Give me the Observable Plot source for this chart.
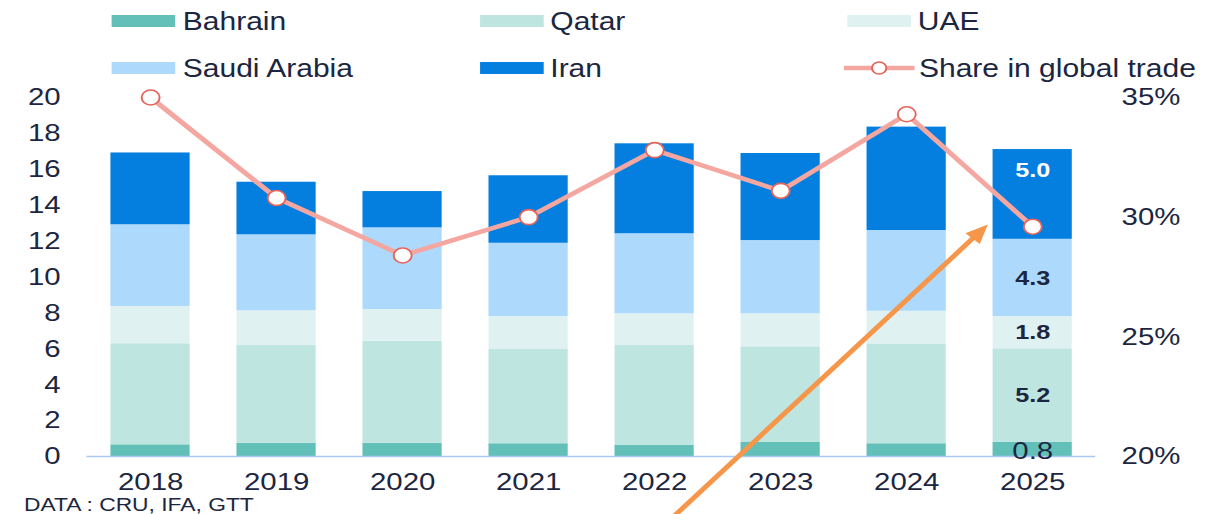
<!DOCTYPE html>
<html><head><meta charset="utf-8">
<script src="https://cdn.jsdelivr.net/npm/d3@7"></script>
<script src="https://cdn.jsdelivr.net/npm/@observablehq/plot@0.6"></script>
<style>
body{margin:0;background:#fff;font-family:"Liberation Sans",Arial,sans-serif;color:#1c2640;overflow:hidden}
#wrap{position:relative;width:1019px;height:514px;transform:scaleX(1.2002);transform-origin:0 0}
.leg{position:absolute;display:flex;align-items:center;font-size:25px;height:30px;line-height:30px;white-space:nowrap}
.sw{width:53px;height:12px;margin-right:6px}
#caption{position:absolute;left:20px;top:498px;font-size:19px;line-height:14px;white-space:nowrap}
</style></head><body>
<div id="wrap">
  <div id="legend"></div>
  <div id="chart" style="position:absolute;top:80px;left:0"></div>
  <div id="caption">DATA : CRU, IFA, GTT</div>
</div>
<script>
// ---- data ----
const years = ["2018","2019","2020","2021","2022","2023","2024","2025"];
const countries = ["Bahrain","Qatar","UAE","Saudi Arabia","Iran"];
const bahrain = [0.65,0.74,0.74,0.71,0.63,0.80,0.71,0.8];
const qatar   = [5.63,5.44,5.68,5.25,5.55,5.31,5.53,5.2];
const uae     = [2.08,1.94,1.77,1.84,1.77,1.84,1.85,1.8];
const saudi   = [4.55,4.23,4.55,4.08,4.46,4.08,4.50,4.3];
const iran    = [4.00,2.93,2.02,3.76,5.01,4.85,5.76,5.0];
const share   = [35.0,30.8,28.4,30.0,32.8,31.1,34.3,29.6]; // % share in global trade
const yTicks = [0,2,4,6,8,10,12,14,16,18,20];
const shareTicks = [20,25,30,35];
const shareLabel = "Share in global trade";
const labelYear = "2025";
const caption = "DATA : CRU, IFA, GTT";

const colors = ["#62c0b8","#bee5e0","#dff1f0","#acd9fc","#047fdf"];
const lineColor = "#f4a7a0", dotStroke = "#e5645a", textColor = "#1c2640";

// ---- derived tables ----
const series = [bahrain, qatar, uae, saudi, iran];
const stacked = [];
years.forEach((yr, i) => {
  let base = 0;
  series.forEach((s, j) => {
    stacked.push({year: yr, country: countries[j], value: s[i], y1: base, y2: base + s[i], mid: base + s[i] / 2});
    base += s[i];
  });
});
const shareMin = 20, shareMax = 35, yMax = 20;
const toLeft = v => (v - shareMin) / (shareMax - shareMin) * yMax;
const fromLeft = v => v / yMax * (shareMax - shareMin) + shareMin;
const lineData = years.map((yr, i) => ({year: yr, share: share[i]}));
const labels = stacked.filter(d => d.year === labelYear);

// ---- legend ----
const legend = document.getElementById("legend");
const items = [
  {t: countries[0], c: colors[0]}, {t: countries[1], c: colors[1]}, {t: countries[2], c: colors[2]},
  {t: countries[3], c: colors[3]}, {t: countries[4], c: colors[4]}, {t: shareLabel, line: true}
];
items.forEach((it, k) => {
  const col = k % 3, row = Math.floor(k / 3);
  const div = document.createElement("div");
  div.className = "leg";
  div.style.left = (93.3 + col * 306.2 - (it.line ? 3 : 0)) + "px";
  div.style.top = (row === 0 ? 6 : 53) + "px";
  if (it.line) {
    div.innerHTML = `<svg width="60" height="16" style="margin-right:3px"><line x1="0" y1="8" x2="59" y2="8" stroke="${lineColor}" stroke-width="4.5"/><circle cx="29.5" cy="8" r="6" fill="#fff" stroke="${dotStroke}" stroke-width="1.6"/></svg>`;
  } else {
    div.innerHTML = `<span class="sw" style="background:${it.c}"></span>`;
  }
  const sp = document.createElement("span");
  sp.textContent = it.t;
  div.appendChild(sp);
  legend.appendChild(div);
});
document.getElementById("caption").textContent = caption;

// ---- chart ----
const plot = Plot.plot({
  width: 1019, height: 434,
  marginLeft: 72, marginRight: 106.5, marginTop: 17, marginBottom: 58,
  style: {fontFamily: "Liberation Sans, Arial, sans-serif", fontSize: "24.5px", color: textColor, background: "transparent"},
  x: {domain: years, paddingInner: 0.373, paddingOuter: 0.1865, label: null},
  y: {domain: [0, yMax], label: null},
  color: {domain: countries, range: colors},
  marks: [
    Plot.barY(stacked, {x: "year", y1: "y1", y2: "y2", fill: "country"}),
    Plot.ruleY([0], {stroke: "#a9c8f4", strokeWidth: 1.5}),
    Plot.axisY(yTicks, {anchor: "left", tickSize: 0, tickPadding: 22, label: null, fontSize: 24.5, fill: textColor}),
    Plot.axisY(shareTicks.map(toLeft), {anchor: "right", tickSize: 0, tickPadding: 21.5, label: null, fontSize: 24.5, fill: textColor,
      tickFormat: v => Math.round(fromLeft(v)) + "%"}),
    Plot.axisX({tickSize: 0, tickPadding: 16, label: null, fontSize: 24.5, fill: textColor}),
    Plot.line(lineData, {x: "year", y: d => toLeft(d.share), stroke: lineColor, strokeWidth: 4.5}),
    Plot.dot(lineData, {x: "year", y: d => toLeft(d.share), r: 7.5, fill: "#fff", stroke: dotStroke, strokeWidth: 1.6}),
    Plot.text(labels.filter(d => d.country === "Iran"), {x: "year", y: "mid", text: d => d.value.toFixed(1), fill: "#fff", fontWeight: "bold", fontSize: 21, dy: -24}),
    Plot.text(labels.filter(d => d.country !== "Iran" && d.country !== "Bahrain"), {x: "year", y: "mid", text: d => d.value.toFixed(1), fill: textColor, fontWeight: "bold", fontSize: 21}),
    Plot.text(labels.filter(d => d.country === "Bahrain"), {x: "year", y: "mid", text: d => d.value.toFixed(1), fill: textColor, fontSize: 24.5, dy: 2})
  ]
});
document.getElementById("chart").appendChild(plot);

// ---- annotation arrow (placed through the plot's scales) ----
const xs = plot.scale("x"), ys = plot.scale("y");
const bw = xs.bandwidth;
const ax1 = xs.apply("2022") + bw * 0.74, ay1 = ys.apply(-3.4);
const ax2 = xs.apply("2025") - bw * 0.06, ay2 = ys.apply(12.9);
const len = Math.hypot(ax2 - ax1, ay2 - ay1);
const ux = (ax2 - ax1) / len, uy = (ay2 - ay1) / len;
const L = 19, w = 8;
const bx = ax2 - ux * L, by = ay2 - uy * L;
const g = d3.select(plot).append("g");
g.append("line").attr("x1", ax1).attr("y1", ay1).attr("x2", bx + ux * 2).attr("y2", by + uy * 2)
  .attr("stroke", "#f5964a").attr("stroke-width", 4.5);
g.append("path")
  .attr("d", `M${ax2},${ay2}L${bx - uy * w},${by + ux * w}L${bx + uy * w},${by - ux * w}Z`)
  .attr("fill", "#f5964a");
</script>
</body></html>
